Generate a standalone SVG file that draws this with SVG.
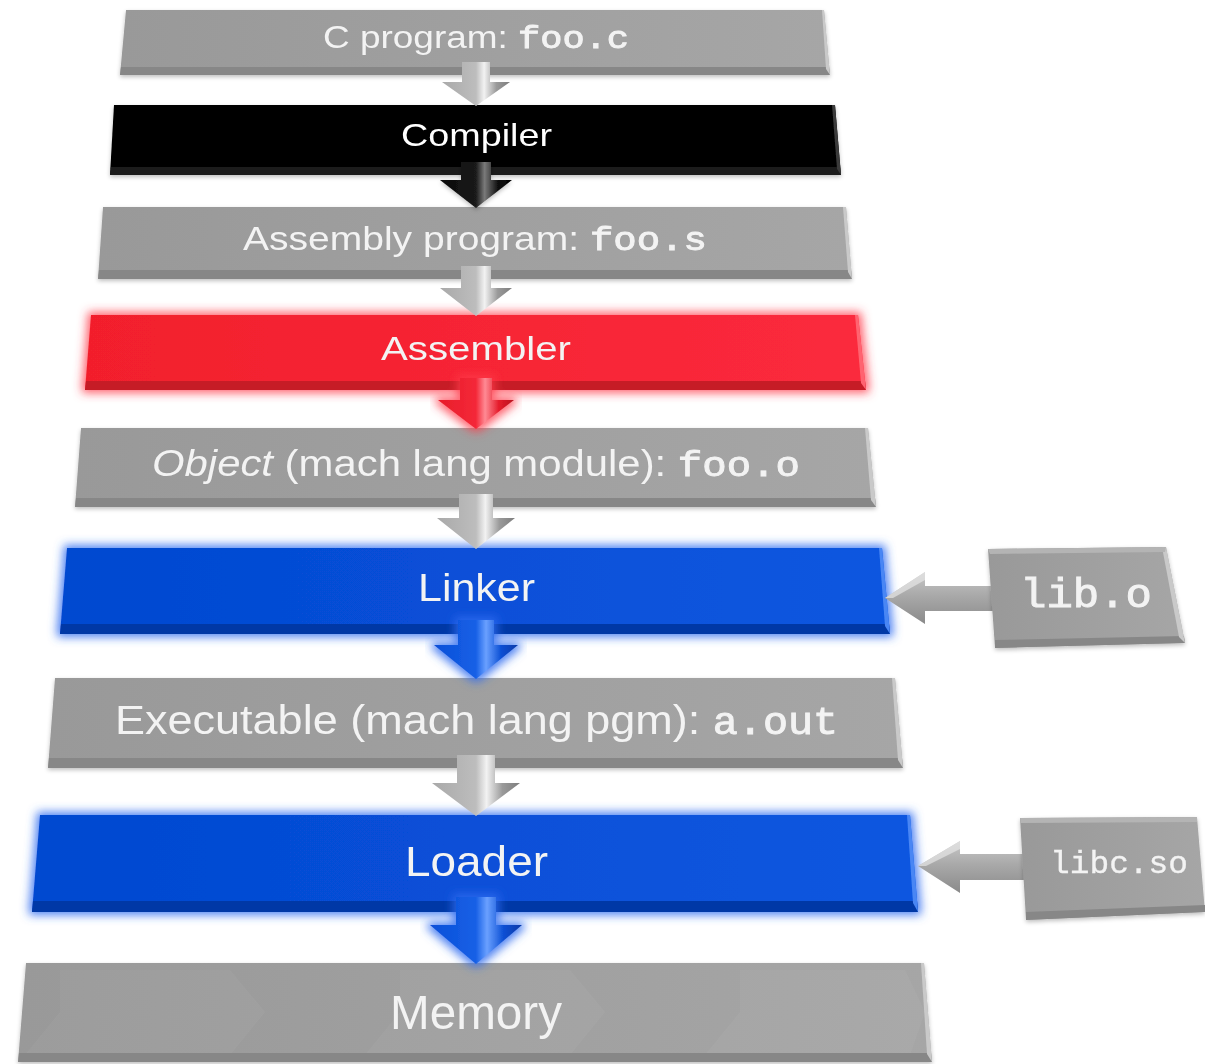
<svg xmlns="http://www.w3.org/2000/svg" width="1205" height="1064" viewBox="0 0 1205 1064">
  <defs>
    <style>
      .lbl { font-family: "Liberation Sans", Arial, sans-serif; fill: #f3f3f3; }
      .mono { font-family: "Liberation Mono", "Courier New", monospace; font-weight: normal; stroke: #f3f3f3; stroke-width: 0.9; }
      .thin { stroke-width: 0.3; }
      .gface { fill: url(#gGray); }
      .gbot { fill: #878787; }
      .gedge { fill: #c9c9c9; }
      .gtop { fill: #b4b4b4; }
    </style>
    <linearGradient id="gGray" x1="0" y1="0" x2="1" y2="0">
      <stop offset="0" stop-color="#999999"/>
      <stop offset="1" stop-color="#a6a6a6"/>
    </linearGradient>
    <linearGradient id="gRed" x1="0" y1="0" x2="1" y2="0">
      <stop offset="0" stop-color="#f21f2c"/>
      <stop offset="1" stop-color="#fb2a3d"/>
    </linearGradient>
    <linearGradient id="gBlue" x1="0" y1="0" x2="1" y2="0">
      <stop offset="0" stop-color="#0448d0"/>
      <stop offset="1" stop-color="#0b57e0"/>
    </linearGradient>
    <!-- arrow shading: darker left flank, bright ridge right of centre -->
    <linearGradient id="aGray" x1="0" y1="0" x2="1" y2="0">
      <stop offset="0" stop-color="#a9a9a9"/>
      <stop offset="0.5" stop-color="#bdbdbd"/>
      <stop offset="0.62" stop-color="#f2f2f2"/>
      <stop offset="0.8" stop-color="#9a9a9a"/>
      <stop offset="1" stop-color="#7d7d7d"/>
    </linearGradient>
    <linearGradient id="aBlack" x1="0" y1="0" x2="1" y2="0">
      <stop offset="0" stop-color="#0a0a0a"/>
      <stop offset="0.5" stop-color="#1a1a1a"/>
      <stop offset="0.62" stop-color="#7a7a7a"/>
      <stop offset="0.8" stop-color="#111"/>
      <stop offset="1" stop-color="#000"/>
    </linearGradient>
    <linearGradient id="aRed" x1="0" y1="0" x2="1" y2="0">
      <stop offset="0" stop-color="#e81c2a"/>
      <stop offset="0.5" stop-color="#f42838"/>
      <stop offset="0.62" stop-color="#ff8a94"/>
      <stop offset="0.8" stop-color="#e51c2c"/>
      <stop offset="1" stop-color="#b8121e"/>
    </linearGradient>
    <linearGradient id="aBlue" x1="0" y1="0" x2="1" y2="0">
      <stop offset="0" stop-color="#0a4fd8"/>
      <stop offset="0.5" stop-color="#1660e6"/>
      <stop offset="0.62" stop-color="#6aa0ff"/>
      <stop offset="0.8" stop-color="#0b4fd4"/>
      <stop offset="1" stop-color="#063aa8"/>
    </linearGradient>
    <linearGradient id="aSide" x1="0" y1="0" x2="0" y2="1">
      <stop offset="0" stop-color="#c8c8c8"/>
      <stop offset="0.45" stop-color="#a9a9a9"/>
      <stop offset="1" stop-color="#8a8a8a"/>
    </linearGradient>
    <filter id="glowRed" x="-10%" y="-50%" width="120%" height="200%">
      <feMorphology in="SourceAlpha" operator="dilate" radius="3" result="d"/>
      <feGaussianBlur in="d" stdDeviation="5" result="b"/>
      <feFlood flood-color="#ff3b4a" flood-opacity="0.8"/>
      <feComposite in2="b" operator="in" result="g"/>
      <feMerge><feMergeNode in="g"/><feMergeNode in="SourceGraphic"/></feMerge>
    </filter>
    <filter id="glowBlue" x="-10%" y="-50%" width="120%" height="200%">
      <feMorphology in="SourceAlpha" operator="dilate" radius="3" result="d"/>
      <feGaussianBlur in="d" stdDeviation="5" result="b"/>
      <feFlood flood-color="#2f6cf0" flood-opacity="0.85"/>
      <feComposite in2="b" operator="in" result="g"/>
      <feMerge><feMergeNode in="g"/><feMergeNode in="SourceGraphic"/></feMerge>
    </filter>
    <filter id="soft" x="-10%" y="-20%" width="120%" height="150%">
      <feGaussianBlur in="SourceAlpha" stdDeviation="2" result="b"/>
      <feOffset dy="2" result="o"/>
      <feFlood flood-color="#000" flood-opacity="0.25"/>
      <feComposite in2="o" operator="in" result="s"/>
      <feMerge><feMergeNode in="s"/><feMergeNode in="SourceGraphic"/></feMerge>
    </filter>
  </defs>

  <rect width="1205" height="1064" fill="#ffffff"/>

  <!-- pipeline stages -->
  <g id="c-program" filter="url(#soft)">
    <polygon class="gface" points="126,10 824,10 830,75 120,75"/>
    <polygon class="gbot" points="121,67 829,67 830,75 120,75"/>
    <polygon class="gedge" points="822,10 824,10 830,75 826,69"/>
    <text class="lbl" x="323" y="48" font-size="31" textLength="306" lengthAdjust="spacingAndGlyphs">C program: <tspan class="mono" font-size="31">foo.c</tspan></text>
  </g>

  <g id="compiler" filter="url(#soft)">
    <polygon fill="#000" points="114,105 835,105 841,175 110,175"/>
    <polygon fill="#1c1c1c" points="111,167 840,167 841,175 110,175"/>
    <polygon fill="#3a3a3a" points="832,105 835,105 841,175 837,169"/>
    <text class="lbl" x="401" y="146" font-size="32" textLength="151" lengthAdjust="spacingAndGlyphs" style="fill:#fff">Compiler</text>
  </g>

  <g id="assembly-program" filter="url(#soft)">
    <polygon class="gface" points="103,207 846,207 852,279 98,279"/>
    <polygon class="gbot" points="99,270 851,270 852,279 98,279"/>
    <polygon class="gedge" points="843,207 846,207 852,279 848,272"/>
    <text class="lbl" x="243" y="250" font-size="33" textLength="464" lengthAdjust="spacingAndGlyphs">Assembly program: <tspan class="mono" font-size="33">foo.s</tspan></text>
  </g>

  <g id="assembler" filter="url(#glowRed)">
    <polygon fill="url(#gRed)" points="91,315 858,315 866,390 85,390"/>
    <polygon fill="#c61a27" points="86,381 865,381 866,390 85,390"/>
    <polygon fill="#ff6470" points="855,315 858,315 866,390 861,383"/>
    <text class="lbl" x="381" y="360" font-size="34" textLength="190" lengthAdjust="spacingAndGlyphs">Assembler</text>
  </g>

  <g id="object" filter="url(#soft)">
    <polygon class="gface" points="81,428 868,428 876,507 75,507"/>
    <polygon class="gbot" points="76,498 875,498 876,507 75,507"/>
    <polygon class="gedge" points="865,428 868,428 876,507 871,500"/>
    <text class="lbl" x="152" y="476" font-size="36" textLength="648" lengthAdjust="spacingAndGlyphs"><tspan font-style="italic">Object</tspan> (mach lang module): <tspan class="mono" font-size="35">foo.o</tspan></text>
  </g>

  <g id="linker" filter="url(#glowBlue)">
    <polygon fill="url(#gBlue)" points="67,548 882,548 890,634 60,634"/>
    <polygon fill="#0337a6" points="61,624 889,624 890,634 60,634"/>
    <polygon fill="#4a86f4" points="879,548 882,548 890,634 885,626"/>
    <text class="lbl" x="418" y="601" font-size="38" textLength="117" lengthAdjust="spacingAndGlyphs">Linker</text>
  </g>

  <g id="executable" filter="url(#soft)">
    <polygon class="gface" points="55,678 895,678 903,768 48,768"/>
    <polygon class="gbot" points="49,758 902,758 903,768 48,768"/>
    <polygon class="gedge" points="892,678 895,678 903,768 898,760"/>
    <text class="lbl" x="115" y="734" font-size="41" textLength="723" lengthAdjust="spacingAndGlyphs">Executable (mach lang pgm): <tspan class="mono" font-size="38">a.out</tspan></text>
  </g>

  <g id="loader" filter="url(#glowBlue)">
    <polygon fill="url(#gBlue)" points="40,815 910,815 918,912 32,912"/>
    <polygon fill="#0337a6" points="33,901 917,901 918,912 32,912"/>
    <polygon fill="#4a86f4" points="907,815 910,815 918,912 913,903"/>
    <text class="lbl" x="405" y="876" font-size="42" textLength="143" lengthAdjust="spacingAndGlyphs">Loader</text>
  </g>

  <g id="memory" filter="url(#soft)">
    <polygon class="gface" points="26,963 924,963 932,1062 18,1062"/>
    <!-- faint chevron pattern on the face -->
    <g fill="#ffffff" opacity="0.035">
      <polygon points="60,970 230,970 265,1012 230,1055 25,1055 60,1012"/>
      <polygon points="400,970 570,970 605,1012 570,1055 365,1055 400,1012"/>
      <polygon points="740,970 905,970 925,1012 910,1055 705,1055 740,1012"/>
    </g>
    <polygon class="gbot" points="19,1053 931,1053 932,1062 18,1062"/>
    <polygon class="gedge" points="921,963 924,963 932,1062 927,1054"/>
    <text class="lbl" x="390" y="1029" font-size="48" textLength="172" lengthAdjust="spacingAndGlyphs">Memory</text>
  </g>

  <!-- flow arrows -->
  <g id="connectors">
    <polygon fill="url(#aGray)" points="462,62 490,62 490,82 510,82 476,106 442,82 462,82"/>
    <g filter="url(#soft)">
      <polygon fill="url(#aBlack)" points="461,162 491,162 491,180 512,180 476,208 440,180 461,180"/>
    </g>
    <polygon fill="url(#aGray)" points="461,266 491,266 491,288 512,288 476,316 440,288 461,288"/>
    <g filter="url(#glowRed)">
      <polygon fill="url(#aRed)" points="460,378 492,378 492,400 514,400 476,429 438,400 460,400"/>
    </g>
    <polygon fill="url(#aGray)" points="459,494 493,494 493,518 515,518 476,549 437,518 459,518"/>
    <g filter="url(#glowBlue)">
      <polygon fill="url(#aBlue)" points="458,620 494,620 494,645 518,645 476,679 434,645 458,645"/>
    </g>
    <polygon fill="url(#aGray)" points="457,755 495,755 495,783 520,783 476,816 432,783 457,783"/>
    <g filter="url(#glowBlue)">
      <polygon fill="url(#aBlue)" points="456,897 496,897 496,925 522,925 476,964 430,925 456,925"/>
    </g>

    <!-- side inputs -->
    <polygon fill="url(#aSide)" points="885,598 925,572 925,586 1000,586 1000,611 925,611 925,624"/>
    <polygon fill="#e6e6e6" opacity="0.7" points="885,598 925,572 925,580 893,598"/>
    <polygon fill="url(#aSide)" points="918,866 960,841 960,854 1030,854 1030,880 960,880 960,893"/>
    <polygon fill="#e6e6e6" opacity="0.7" points="918,866 960,841 960,849 926,866"/>
  </g>

  <g id="lib-o" filter="url(#soft)">
    <polygon class="gface" points="988,549 1166,547 1185,643 995,648"/>
    <polygon class="gbot" points="995,640 1184,636 1185,643 995,648"/>
    <polygon class="gedge" points="1162,547 1166,547 1185,643 1179,637"/>
    <polygon class="gtop" points="988,549 1166,547 1165,552 990,554"/>
    <text class="lbl mono" x="1020" y="607" font-size="40" textLength="132" lengthAdjust="spacingAndGlyphs">lib.o</text>
  </g>

  <g id="libc-so" filter="url(#soft)">
    <polygon class="gface" points="1020,818 1197,817 1205,912 1026,920"/>
    <polygon class="gbot" points="1026,912 1205,905 1205,912 1026,920"/>
    <polygon class="gtop" points="1020,818 1197,817 1197,822 1021,823"/>
    <text class="lbl mono thin" x="1050" y="873" font-size="32" textLength="138" lengthAdjust="spacingAndGlyphs">libc.so</text>
  </g>
</svg>
